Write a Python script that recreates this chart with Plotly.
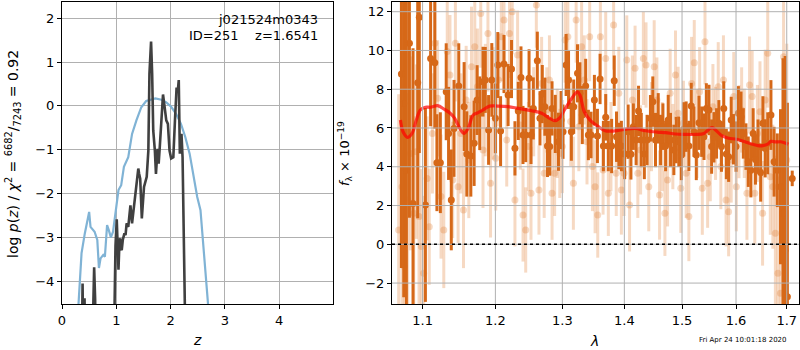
import plotly.graph_objects as go
import math

# ---------------- left panel: redshift PDF ----------------
z_prior = [0.30, 0.36, 0.42, 0.46, 0.50, 0.525, 0.60, 0.65, 0.68, 0.71, 0.76, 0.79, 0.83, 0.86, 0.90,
           0.94, 1.00, 1.04, 1.09, 1.14, 1.22, 1.29, 1.37, 1.46, 1.55, 1.64, 1.72, 1.83, 1.92, 2.01,
           2.10, 2.19, 2.27, 2.35, 2.42, 2.49, 2.55, 2.60, 2.65, 2.69, 2.72]
logp_prior = [-4.6, -3.36, -2.91, -2.62, -2.42, -2.76, -2.87, -3.06, -3.70, -3.48, -3.40, -3.44, -2.72, -2.83, -3.00,
              -2.87, -2.30, -1.92, -1.81, -1.39, -1.17, -0.64, -0.33, -0.03, 0.11, 0.14, 0.17, 0.14, 0.08, -0.02,
              -0.18, -0.41, -0.71, -1.09, -1.58, -2.08, -2.38, -3.14, -3.89, -4.52, -5.0]

z_pz = [0.36, 0.379, 0.395, 0.415, 0.43, 0.55, 0.58, 0.592, 0.61, 0.625, 0.95, 0.965, 0.985, 1.008, 1.02,
        1.04, 1.055, 1.07, 1.085, 1.10, 1.12, 1.15, 1.17, 1.19, 1.22, 1.24, 1.26, 1.29, 1.31, 1.34,
        1.37, 1.39, 1.405, 1.42, 1.44, 1.47, 1.51, 1.56, 1.59, 1.61, 1.64, 1.66, 1.68, 1.71, 1.73,
        1.76, 1.78, 1.80, 1.83, 1.86, 1.89, 1.92, 1.95, 1.98, 2.01, 2.05, 2.08, 2.11, 2.13, 2.15,
        2.17, 2.20, 2.22, 2.25, 2.28]
logp_pz = [-6.0, -4.05, -6.0, -4.39, -6.0, -6.0, -4.0, -3.68, -4.4, -6.0, -6.0, -4.5, -3.2, -2.59, -3.05,
           -3.74, -3.20, -3.02, -3.25, -3.29, -3.05, -2.91, -2.95, -2.68, -2.76, -2.55, -2.27, -2.68, -2.45, -2.19,
           -1.80, -1.60, -1.43, -1.55, -1.66, -2.57, -1.85, -1.62, -1.02, 0.73, 1.47, 0.73, -0.56, -1.02, -1.55,
           -0.98, -1.32, -0.94, -0.18, 0.26, -0.03, -0.33, -0.41, -1.02, -1.20, -1.17, -0.33, 0.42, 0.31, 0.59,
           -1.09, -0.64, -1.17, -2.61, -6.0]

# ---------------- right panel: spectrum ----------------
wave_bin = [1.0725, 1.0755, 1.0789, 1.0828, 1.0875, 1.0936, 1.0957, 1.1037, 1.1106, 1.1162,
            1.1190, 1.1236, 1.1315, 1.1347, 1.1384, 1.1421, 1.1486, 1.1560, 1.1597, 1.1653,
            1.1699, 1.1741, 1.1778, 1.1824, 1.1856, 1.1903, 1.1949, 1.2000, 1.2035, 1.2075,
            1.2124, 1.2184, 1.2234, 1.2284, 1.2333, 1.2373, 1.2403, 1.2443, 1.2493, 1.2522,
            1.2557, 1.2617, 1.2657, 1.2692, 1.2731, 1.2771, 1.2806, 1.2841, 1.2891, 1.2940,
            1.2980, 1.3011, 1.3059, 1.3097, 1.3141, 1.3178, 1.3238, 1.3276, 1.3314, 1.3368,
            1.3411, 1.3454, 1.3508, 1.3557, 1.3600, 1.3654, 1.3692, 1.3735, 1.3789, 1.3832,
            1.3870, 1.3908, 1.3951, 1.4006, 1.4064, 1.4111, 1.4152, 1.4199, 1.4240, 1.4287,
            1.4339, 1.4386, 1.4444, 1.4485, 1.4532, 1.4579, 1.4620, 1.4661, 1.4708, 1.4754,
            1.4795, 1.4854, 1.4895, 1.4942, 1.4988, 1.5031, 1.5074, 1.5123, 1.5166, 1.5215,
            1.5258, 1.5307, 1.5356, 1.5399, 1.5442, 1.5491, 1.5540, 1.5583, 1.5632, 1.5675,
            1.5724, 1.5767, 1.5816, 1.5859, 1.5908, 1.5951, 1.6000, 1.6045, 1.6096, 1.6140,
            1.6191, 1.6236, 1.6287, 1.6331, 1.6376, 1.6427, 1.6478, 1.6522, 1.6567, 1.6618,
            1.6682, 1.6745, 1.6809, 1.6873, 1.6924, 1.6968, 1.7013, 1.7112]
flux_bin = [8.78, 7.27, 3.82, 10.37, 2.11, 8.34, 11.71, 2.03, 9.59, 9.37,
            4.21, 4.21, 7.87, 5.72, 2.29, 5.98, 8.17, 7.10, 4.66, 4.56,
            5.21, 7.44, 6.76, 8.39, 8.48, 5.90, 8.48, 6.50, 9.25, 5.84,
            9.30, 7.70, 9.04, 4.95, 6.88, 8.61, 5.64, 5.64, 8.56, 5.64,
            7.01, 9.47, 6.50, 7.75, 7.10, 5.07, 5.04, 7.01, 6.21, 5.29,
            6.41, 5.81, 9.25, 8.48, 5.81, 7.10, 8.82, 7.79, 6.67, 8.17,
            5.64, 5.64, 7.44, 5.59, 8.53, 5.07, 6.55, 5.07, 5.07, 8.44,
            5.55, 5.07, 5.07, 4.66, 5.81, 4.64, 6.07, 5.38, 6.88, 5.38,
            4.66, 5.38, 6.50, 7.36, 5.38, 6.50, 5.38, 6.07, 5.07, 6.41,
            5.38, 4.87, 5.38, 5.29, 4.61, 5.93, 6.07, 5.07, 7.13, 5.81,
            4.61, 6.27, 5.81, 5.55, 7.01, 6.93, 5.04, 5.52, 5.72, 6.24,
            5.04, 7.01, 4.66, 4.52, 6.41, 5.42, 5.04, 6.76, 6.58, 5.72,
            5.04, 4.26, 3.82, 5.72, 4.38, 5.04, 3.70, 6.24, 4.95, 5.21,
            6.67, 4.26, 3.82, 2.97, 1.60, -0.29, -2.70, 3.40]
err_bin = [10.0, 10.0, 9.0, 9.0, 8.0, 7.0, 7.0, 5.0, 3.5, 3.4,
           2.5, 2.6, 2.5, 2.4, 2.6, 2.5, 2.2, 2.3, 2.2, 2.1,
           2.2, 1.8, 1.9, 1.8, 1.7, 1.8, 1.9, 1.8, 1.7, 1.8,
           1.5, 1.6, 1.5, 1.4, 1.5, 1.6, 1.5, 1.4, 1.5, 1.5,
           1.6, 1.5, 1.4, 1.5, 1.5, 1.6, 1.5, 1.4, 1.5, 1.5,
           1.5, 1.4, 1.6, 1.5, 1.5, 1.4, 1.5, 1.6, 1.5, 1.4,
           1.3, 1.2, 1.3, 1.4, 1.3, 1.3, 1.2, 1.3, 1.4, 1.3,
           1.3, 1.2, 1.3, 1.3, 1.4, 1.3, 1.2, 1.3, 1.3, 1.4,
           1.3, 1.3, 1.2, 1.3, 1.4, 1.3, 1.3, 1.2, 1.3, 1.3,
           1.4, 1.3, 1.2, 1.3, 1.3, 1.4, 1.3, 1.3, 1.2, 1.3,
           1.3, 1.4, 1.3, 1.2, 1.3, 1.3, 1.4, 1.3, 1.3, 1.2,
           1.3, 1.4, 1.3, 1.3, 1.2, 1.3, 1.3, 1.4, 1.3, 1.3,
           1.2, 1.3, 1.4, 1.3, 1.3, 1.4, 1.5, 1.4, 1.5, 1.6,
           1.8, 1.8, 1.9, 4.0, 8.0, 10.0, 10.0, 0.4]

wave_raw = [1.0690, 1.0733, 1.0763, 1.0806, 1.0841, 1.0884, 1.0918, 1.0953, 1.0983, 1.1014,
            1.1060, 1.1088, 1.1130, 1.1162, 1.1199, 1.1245, 1.1282, 1.1329, 1.1366, 1.1403,
            1.1440, 1.1477, 1.1514, 1.1551, 1.1588, 1.1625, 1.1662, 1.1708, 1.1745, 1.1792,
            1.1824, 1.1856, 1.1894, 1.1931, 1.1968, 1.2005, 1.2045, 1.2085, 1.2124, 1.2164,
            1.2204, 1.2244, 1.2284, 1.2323, 1.2363, 1.2403, 1.2443, 1.2483, 1.2522, 1.2562,
            1.2602, 1.2642, 1.2682, 1.2721, 1.2761, 1.2801, 1.2841, 1.2881, 1.2920, 1.2960,
            1.3000, 1.3043, 1.3086, 1.3130, 1.3173, 1.3216, 1.3259, 1.3303, 1.3346, 1.3389,
            1.3432, 1.3476, 1.3519, 1.3562, 1.3605, 1.3649, 1.3692, 1.3735, 1.3778, 1.3822,
            1.3865, 1.3908, 1.3951, 1.3995, 1.4041, 1.4088, 1.4135, 1.4181, 1.4228, 1.4275,
            1.4322, 1.4368, 1.4415, 1.4462, 1.4509, 1.4556, 1.4602, 1.4649, 1.4696, 1.4743,
            1.4789, 1.4836, 1.4883, 1.4930, 1.4977, 1.5025, 1.5074, 1.5123, 1.5172, 1.5221,
            1.5270, 1.5319, 1.5368, 1.5417, 1.5466, 1.5515, 1.5564, 1.5613, 1.5663, 1.5712,
            1.5761, 1.5810, 1.5859, 1.5908, 1.5957, 1.6006, 1.6057, 1.6108, 1.6159, 1.6210,
            1.6261, 1.6312, 1.6363, 1.6414, 1.6465, 1.6516, 1.6567, 1.6618, 1.6669, 1.6720,
            1.6771, 1.6822, 1.6873, 1.6936, 1.7000]
flux_raw = [0.74, 2.97, -1.15, 2.29, 4.69, 1.60, 4.78, 1.43, -0.12, -1.50,
            3.40, 0.91, 5.72, 10.37, 7.53, 2.46, 0.74, 9.94, 8.73, 3.32,
            10.37, 2.97, 5.72, 1.77, 7.44, 4.35, 9.16, 10.19, 8.13, 11.91,
            4.87, 7.44, 10.88, 3.15, 7.27, 4.44, 8.48, 10.71, 11.57, 5.38,
            10.88, 12.00, 2.29, 9.76, 6.15, 1.51, 0.74, 5.04, 2.63, 6.84,
            12.34, 2.80, 8.30, 3.66, 6.93, 8.48, 2.63, 3.66, 5.72, 4.69,
            5.04, 10.54, 10.71, 6.33, 3.15, 11.57, 6.07, 10.19, 8.48, 5.29,
            10.71, 4.01, 2.97, 1.51, 10.71, 3.83, 9.59, 2.63, 5.04, 11.31,
            3.66, 7.79, 2.80, 3.66, 9.51, 2.03, 7.44, 9.08, 3.66, 4.87,
            9.59, 9.25, 2.97, 6.07, 9.16, 7.44, 2.54, 5.04, 1.60, 3.32,
            7.79, 5.04, 8.73, 6.76, 2.89, 6.24, 3.66, 1.43, 8.30, 9.37,
            5.72, 7.87, 2.89, 10.45, 3.15, 4.52, 7.10, 5.72, 8.13, 4.01,
            8.48, 2.29, 1.68, 4.35, 7.62, 2.97, 5.81, 6.93, 5.72, 2.63,
            8.22, 7.62, 2.63, 5.72, 6.84, 1.60, 7.44, 9.85, 3.49, 2.97,
            0.57, -1.50, -2.53, 9.68, 4.35]
err_raw = [7.0, 6.5, 6.0, 5.5, 5.0, 5.0, 4.5, 4.5, 4.0, 4.0,
           3.2, 3.0, 3.1, 2.9, 3.0, 3.2, 3.0, 2.9, 3.1, 3.0,
           3.0, 2.9, 3.1, 3.0, 2.8, 3.0, 3.1, 2.9, 3.0, 2.8,
           3.0, 2.9, 3.0, 2.8, 2.9, 2.7, 2.4, 2.3, 2.2, 2.4,
           2.3, 2.2, 2.4, 2.3, 2.3, 2.4, 2.2, 2.3, 2.4, 2.3,
           2.2, 2.3, 2.4, 2.3, 2.2, 2.3, 2.4, 2.2, 2.3, 2.3,
           2.4, 2.2, 2.3, 2.3, 2.4, 2.2, 2.3, 2.4, 2.3, 2.2,
           2.3, 2.3, 2.4, 2.2, 2.3, 2.3, 2.4, 2.2, 2.3, 2.3,
           2.2, 2.4, 2.3, 2.2, 2.3, 2.4, 2.3, 2.2, 2.3, 2.3,
           2.4, 2.2, 2.3, 2.3, 2.4, 2.2, 2.3, 2.3, 2.2, 2.4,
           2.3, 2.2, 2.3, 2.4, 2.3, 2.2, 2.3, 2.3, 2.4, 2.2,
           2.3, 2.3, 2.4, 2.2, 2.3, 2.3, 2.2, 2.4, 2.3, 2.2,
           2.3, 2.4, 2.3, 2.2, 2.3, 2.3, 2.4, 2.2, 2.3, 2.4,
           2.5, 2.4, 2.6, 2.5, 2.6, 2.7, 2.6, 2.8, 3.0, 3.2,
           4.0, 5.0, 5.0, 6.0, 6.0]

wave_model = [1.0712, 1.0746, 1.0806, 1.0862, 1.0918, 1.0970, 1.1037, 1.1106, 1.1199, 1.1292,
              1.1361, 1.1431, 1.1500, 1.1560, 1.1616, 1.1685, 1.1755, 1.1824, 1.1917, 1.2035,
              1.2184, 1.2333, 1.2532, 1.2682, 1.2781, 1.2881, 1.2955, 1.3032, 1.3114, 1.3184,
              1.3238, 1.3276, 1.3346, 1.3438, 1.3573, 1.3681, 1.3789, 1.4006, 1.4181, 1.4356,
              1.4561, 1.4708, 1.4883, 1.5061, 1.5245, 1.5399, 1.5491, 1.5552, 1.5613, 1.5736,
              1.5859, 1.6013, 1.6172, 1.6299, 1.6427, 1.6522, 1.6618, 1.6682, 1.6777, 1.6873,
              1.6949, 1.7033]
flux_model = [6.41, 5.81, 5.52, 5.72, 6.41, 6.93, 7.07, 7.07, 7.15, 6.96,
              6.79, 6.50, 5.98, 5.72, 5.98, 6.67, 6.79, 6.93, 7.13, 7.13,
              7.10, 7.01, 6.89, 6.76, 6.55, 6.38, 6.50, 6.93, 7.36, 7.70,
              7.87, 7.70, 6.84, 6.41, 6.07, 5.86, 5.84, 5.93, 5.98, 5.86,
              5.79, 5.76, 5.69, 5.67, 5.67, 5.72, 5.93, 6.02, 5.90, 5.59,
              5.47, 5.42, 5.29, 5.17, 5.09, 5.09, 5.17, 5.31, 5.28, 5.29,
              5.24, 5.16]

wave_ticks = [1.1, 1.2, 1.3, 1.4, 1.5, 1.6, 1.7]
flux_ticks = [-2, 0, 2, 4, 6, 8, 10, 12]
z_ticks = [0, 1, 2, 3, 4]
logp_ticks = [-4, -3, -2, -1, 0, 1, 2]


def lab(v):
    s = f"{v:g}"
    return s.replace("-", "\u2212")


W, H = 800, 350
# plot-area box in pixels
L, R, T, B = 62, 799, 2, 304
PW, PH = R - L, B - T
FONT = "DejaVu Sans"
DARK = "rgb(214,104,24)"
LIGHT = "rgba(222,120,40,0.28)"
GRID = "#b0b0b0"

fig = go.Figure()

fig.add_trace(go.Scatter(x=z_prior, y=logp_prior, mode="lines",
                         line=dict(color="rgb(128,179,213)", width=2.2),
                         xaxis="x", yaxis="y", showlegend=False, hoverinfo="skip"))
fig.add_trace(go.Scatter(x=z_pz, y=logp_pz, mode="lines",
                         line=dict(color="rgb(64,64,64)", width=2.6),
                         xaxis="x", yaxis="y", showlegend=False, hoverinfo="skip"))

fig.add_trace(go.Scatter(x=wave_raw, y=flux_raw, mode="markers",
                         marker=dict(color=LIGHT, size=7, line=dict(width=0)),
                         error_y=dict(type="data", array=err_raw, color=LIGHT, thickness=3, width=0),
                         xaxis="x2", yaxis="y2", showlegend=False, hoverinfo="skip"))
fig.add_trace(go.Scatter(x=wave_bin, y=flux_bin, mode="markers",
                         marker=dict(color=DARK, size=7, line=dict(width=0)),
                         error_y=dict(type="data", array=err_bin, color=DARK, thickness=3, width=0),
                         xaxis="x2", yaxis="y2", showlegend=False, hoverinfo="skip"))
fig.add_trace(go.Scatter(x=wave_model, y=flux_model, mode="lines",
                         line=dict(color="rgba(255,0,0,0.7)", width=3.2, shape="spline"),
                         xaxis="x2", yaxis="y2", showlegend=False, hoverinfo="skip"))

ax_common = dict(showline=True, linecolor="black", linewidth=1, mirror=True,
                 ticks="outside", ticklen=4, tickcolor="black", zeroline=False,
                 automargin=False,
                 tickfont=dict(family=FONT, size=13, color="black"))

fig.update_layout(
    width=W, height=H, margin=dict(l=L, r=W - R, t=T, b=H - B, autoexpand=False),
    paper_bgcolor="white", plot_bgcolor="white",
    xaxis=dict(domain=[0, (333 - L) / PW], range=[0, 4.99], tickvals=z_ticks,
               ticktext=[lab(v) for v in z_ticks], showgrid=True, gridcolor=GRID, gridwidth=1,
               anchor="y", **ax_common),
    yaxis=dict(domain=[0, 1], range=[-4.52, 2.37], tickvals=logp_ticks,
               ticktext=[lab(v) for v in logp_ticks], showgrid=True, gridcolor=GRID, gridwidth=1,
               anchor="x", **ax_common),
    xaxis2=dict(domain=[(392 - L) / PW, 1], type="log",
                range=[math.log10(1.0605), math.log10(1.7251)],
                tickvals=wave_ticks, ticktext=[lab(v) for v in wave_ticks], showgrid=False,
                anchor="y2", **ax_common),
    yaxis2=dict(domain=[0, 1], range=[-3.08, 12.5], tickvals=flux_ticks,
                ticktext=[lab(v) for v in flux_ticks], showgrid=False,
                anchor="x2", **ax_common),
)

shapes = []
for v in wave_ticks:
    shapes.append(dict(type="line", xref="x2", yref="y2 domain", x0=v, x1=v, y0=0, y1=1,
                       line=dict(color=GRID, width=1), layer="above"))
for v in flux_ticks:
    shapes.append(dict(type="line", xref="x2 domain", yref="y2", x0=0, x1=1, y0=v, y1=v,
                       line=dict(color=GRID, width=1), layer="above"))
shapes.append(dict(type="line", xref="x2 domain", yref="y2", x0=0, x1=1, y0=0, y1=0,
                   line=dict(color="black", width=1.6, dash="dot"), layer="above"))
fig.update_layout(shapes=shapes)


def ann(text, x, y, size=13, **kw):
    d = dict(text=text, x=(x - L) / PW, y=(B - y) / PH, xref="paper", yref="paper",
             showarrow=False, font=dict(family=FONT, size=size, color="black"))
    d.update(kw)
    fig.add_annotation(**d)


ann("j021524m0343", 320, 20, xanchor="right", yanchor="middle")
ann("ID=251    z=1.6541", 320, 35, xanchor="right", yanchor="middle")
ann("<i>z</i>", 197, 340, size=14, xanchor="center", yanchor="middle")
ann("<i>λ</i>", 594, 341, size=14, xanchor="center", yanchor="middle")
ann("log <i>p</i>(<i>z</i>) / <i>χ</i><sup>2</sup> = <sup>6682</sup>/<sub>7243</sub> = 0.92",
    13, 154, size=14, textangle=-90, xanchor="center", yanchor="middle")
ann("<i>f</i><sub>λ</sub> × 10<sup>−19</sup>", 345, 154, size=13, textangle=-90,
    xanchor="center", yanchor="middle")
ann("Fri Apr 24 10:01:18 2020", 743, 340, size=7, xanchor="center", yanchor="middle")

fig.write_html("out.html", config={"displayModeBar": False},
               post_script="document.body.style.margin='0';document.body.style.padding='0';")
